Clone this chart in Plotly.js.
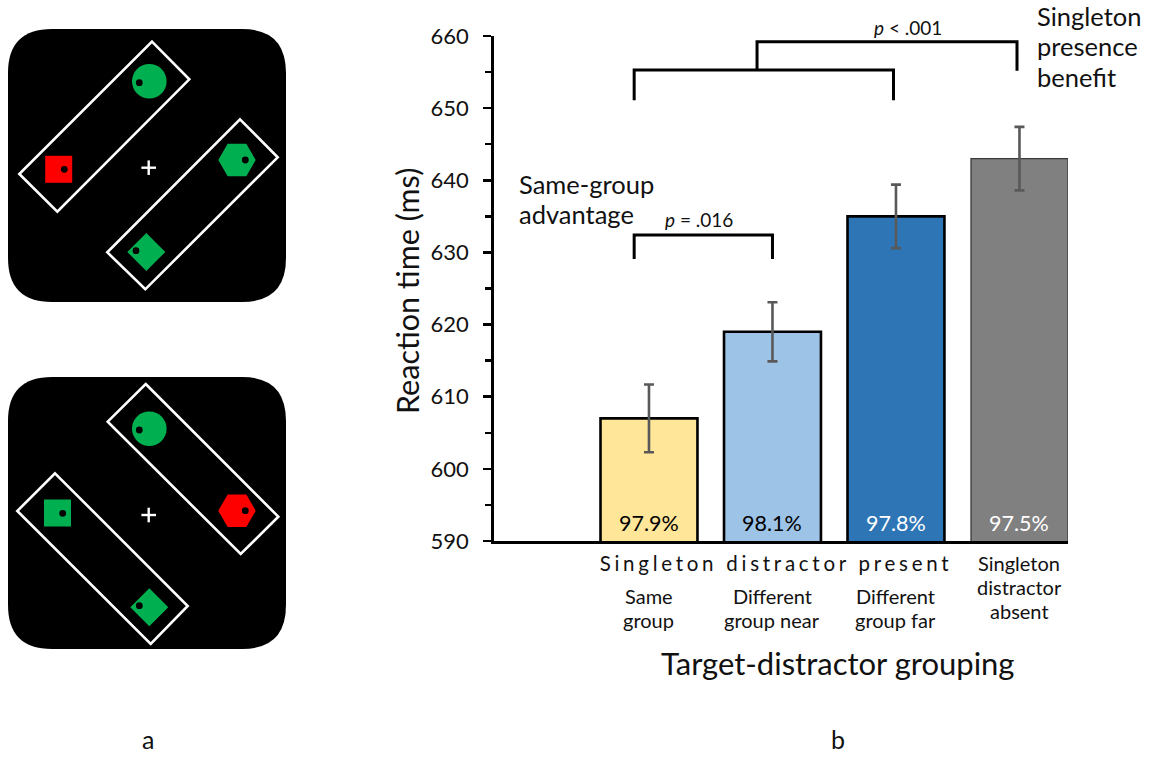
<!DOCTYPE html>
<html>
<head>
<meta charset="utf-8">
<script src="https://cdn.plot.ly/plotly-3.0.1.min.js"></script>
<style>html,body{margin:0;padding:0;background:#fff;}</style>
</head>
<body>
<div id="chart" style="width:1170px;height:758px;"></div>
<script>
// ---------------- data ----------------
const categories = ['Same group', 'Different group near', 'Different group far', 'Singleton distractor absent'];
const tickLines = [['Same', 'group'], ['Different', 'group near'], ['Different', 'group far'], ['Singleton', 'distractor', 'absent']];
const rtValues = [607, 619, 635, 643];
const rtErrors = [4.7, 4.1, 4.4, 4.4];
const accuracyLabels = ['97.9%', '98.1%', '97.8%', '97.5%'];
const groupLabel = 'Singleton distractor present';
const pLabels = ['<i>p</i> = .016', '<i>p</i> &lt; .001'];
const yTicks = [590, 600, 610, 620, 630, 640, 650, 660];
const yMinorTicks = [595, 605, 615, 625, 635, 645, 655];

// ---------------- styles ----------------
const FONT = 'Lato, "Open Sans", "Noto Sans", sans-serif';
const TXT = '#111111';
const barFill = ['#FFE699', '#9DC3E6', '#2E75B6', '#808080'];
const barEdge = ['#000000', '#000000', '#000000', '#3a3a3a'];
const barEdgeW = [2.6, 2.6, 2.6, 1.3];
const pctColor = ['#000000', '#000000', '#ffffff', '#ffffff'];
const W = 1170, H = 758;
const px = x => x / W;
const py = y => 1 - y / H;
const xIdx = categories.map((c, i) => i);

// ---------------- schematic (panel a) ----------------
const GREEN = '#00B050', RED = '#FF0000';
const panels = [
  {
    box: [8, 29, 286, 302],
    frames: [[[152, 41.7], [189.3, 79.3], [57.3, 211.7], [19.3, 174]],
             [[240, 119.3], [277.7, 157.3], [145.3, 289.3], [107.3, 252.3]]],
    items: [
      {kind: 'circle', c: [149.3, 81.3], col: GREEN, dot: [139.3, 82.7]},
      {kind: 'square', c: [58.7, 169.3], col: RED, dot: [64.3, 169.3]},
      {kind: 'hexagon', c: [237, 160], col: GREEN, dot: [245.3, 160]},
      {kind: 'diamond', c: [146.3, 252], col: GREEN, dot: [136, 250.7]}
    ],
    cross: [148.7, 167.7]
  },
  {
    box: [8, 377, 286, 649],
    frames: [[[145.7, 384], [278.3, 516.7], [240.7, 554], [107.7, 421.7]],
             [[55, 473.3], [187.7, 606], [150.7, 644], [17.3, 511]]],
    items: [
      {kind: 'circle', c: [149.3, 428.7], col: GREEN, dot: [139.3, 430]},
      {kind: 'hexagon', c: [237, 510.7], col: RED, dot: [245.3, 510.7]},
      {kind: 'square', c: [57.5, 513], col: GREEN, dot: [62.7, 513.3]},
      {kind: 'diamond', c: [149.3, 607.3], col: GREEN, dot: [139.3, 605.7]}
    ],
    cross: [148.7, 515]
  }
];

const shapes = [];
function pathFrom(pts) {
  return 'M' + pts.map(p => p[0].toFixed(2) + ',' + p[1].toFixed(2)).join('L') + 'Z';
}
function roundRect(x0, y0, x1, y1, r) {
  return `M${x0 + r},${y0} L${x1 - r},${y0} Q${x1},${y0} ${x1},${y0 + r} L${x1},${y1 - r} Q${x1},${y1} ${x1 - r},${y1} L${x0 + r},${y1} Q${x0},${y1} ${x0},${y1 - r} L${x0},${y0 + r} Q${x0},${y0} ${x0 + r},${y0} Z`;
}
panels.forEach(p => {
  const [x0, y0, x1, y1] = p.box;
  shapes.push({type: 'path', xref: 'x2', yref: 'y2', path: roundRect(x0, y0, x1, y1, 44),
               fillcolor: '#000', line: {width: 0}});
  p.frames.forEach(f => shapes.push({type: 'path', xref: 'x2', yref: 'y2', path: pathFrom(f),
               fillcolor: 'rgba(0,0,0,0)', line: {color: '#fff', width: 2.6}}));
  p.items.forEach(it => {
    const [cx, cy] = it.c;
    if (it.kind === 'circle') {
      const r = 17.3;
      shapes.push({type: 'circle', xref: 'x2', yref: 'y2', x0: cx - r, x1: cx + r, y0: cy - r, y1: cy + r,
                   fillcolor: it.col, line: {width: 0}});
    } else if (it.kind === 'square') {
      const h = 13.5;
      shapes.push({type: 'rect', xref: 'x2', yref: 'y2', x0: cx - h, x1: cx + h, y0: cy - h, y1: cy + h,
                   fillcolor: it.col, line: {width: 0}});
    } else if (it.kind === 'hexagon') {
      const r = 18.7, pts = [];
      for (let k = 0; k < 6; k++) {
        const a = k * Math.PI / 3;
        pts.push([cx + r * Math.cos(a), cy + r * Math.sin(a)]);
      }
      shapes.push({type: 'path', xref: 'x2', yref: 'y2', path: pathFrom(pts), fillcolor: it.col, line: {width: 0}});
    } else if (it.kind === 'diamond') {
      const d = 19;
      shapes.push({type: 'path', xref: 'x2', yref: 'y2',
                   path: pathFrom([[cx - d, cy], [cx, cy - d], [cx + d, cy], [cx, cy + d]]),
                   fillcolor: it.col, line: {width: 0}});
    }
    const dr = 3.4;
    shapes.push({type: 'circle', xref: 'x2', yref: 'y2', x0: it.dot[0] - dr, x1: it.dot[0] + dr,
                 y0: it.dot[1] - dr, y1: it.dot[1] + dr, fillcolor: '#000', line: {width: 0}});
  });
  const [cx, cy] = p.cross, a = 7.3;
  shapes.push({type: 'line', xref: 'x2', yref: 'y2', x0: cx - a, x1: cx + a, y0: cy, y1: cy, line: {color: '#fff', width: 2.4}});
  shapes.push({type: 'line', xref: 'x2', yref: 'y2', x0: cx, x1: cx, y0: cy - a, y1: cy + a, line: {color: '#fff', width: 2.4}});
});

// ---------------- significance brackets (data units) ----------------
const brackets = [
  {x0: -0.12, x1: 1.0, top: 632.4, leg0: 629.1, leg1: 629.1},
  {x0: -0.12, x1: 1.98, top: 655.3, leg0: 651.1, leg1: 651.1},
  {x0: 0.875, x1: 2.98, top: 659.2, leg0: 655.3, leg1: 655.2}
];
brackets.forEach(b => {
  shapes.push({type: 'path', xref: 'x', yref: 'y',
               path: `M${b.x0},${b.leg0} L${b.x0},${b.top} L${b.x1},${b.top} L${b.x1},${b.leg1}`,
               line: {color: '#000', width: 3}, fillcolor: 'rgba(0,0,0,0)'});
});

// ---------------- traces ----------------
const traces = [
  {
    type: 'bar', x: xIdx, y: rtValues, width: 0.785,
    marker: {color: barFill, line: {color: barEdge, width: barEdgeW}},
    error_y: {type: 'data', array: rtErrors, visible: true, color: '#595959', thickness: 2.6, width: 5},
    hoverinfo: 'skip', showlegend: false
  },
  {
    type: 'scatter', x: [0], y: [0], xaxis: 'x2', yaxis: 'y2', mode: 'markers',
    marker: {opacity: 0}, hoverinfo: 'skip', showlegend: false
  }
];

// ---------------- annotations ----------------
const ann = [];
function txt(x, y, text, size, extra) {
  ann.push(Object.assign({x: px(x), y: py(y), xref: 'paper', yref: 'paper', text: text, showarrow: false,
    font: {family: FONT, size: size, color: TXT}, xanchor: 'center', yanchor: 'middle'}, extra || {}));
}
accuracyLabels.forEach((t, i) => ann.push({
  x: xIdx[i], y: 592.5, xref: 'x', yref: 'y', text: t, showarrow: false,
  font: {family: FONT, size: 21.5, color: pctColor[i]}, xanchor: 'center', yanchor: 'middle'
}));
const lineYsShort = [595.5, 619.5];
const lineYsLong = [562.5, 586.5, 610.5];
tickLines.forEach((lines, i) => {
  const ys = lines.length === 3 ? lineYsLong : lineYsShort;
  lines.forEach((l, k) => ann.push({
    x: xIdx[i], y: py(ys[k]), xref: 'x', yref: 'paper', text: l, showarrow: false,
    font: {family: FONT, size: 20, color: TXT}, xanchor: 'center', yanchor: 'middle'
  }));
});
txt(776.5, 562.5, groupLabel, 20.5);
txt(407, 291, 'Reaction time (ms)', 30.5, {textangle: -90});
txt(838, 663, 'Target-distractor grouping', 31);
txt(517, 183.5, 'Same-group', 25.5, {xanchor: 'left'});
txt(517, 214.5, 'advantage', 25.5, {xanchor: 'left'});
txt(1035, 16, 'Singleton', 25.5, {xanchor: 'left'});
txt(1035, 46.5, 'presence', 25.5, {xanchor: 'left'});
txt(1035, 77, 'benefit', 25.5, {xanchor: 'left'});
txt(699, 219, pLabels[0], 19);
txt(908, 27, pLabels[1], 19);
txt(148, 756, 'a', 25, {yanchor: 'bottom'});
txt(838, 756, 'b', 25, {yanchor: 'bottom'});

// ---------------- layout ----------------
const layout = {
  width: W, height: H,
  margin: {l: 0, r: 0, t: 0, b: 0, pad: 0},
  paper_bgcolor: '#ffffff', plot_bgcolor: 'rgba(0,0,0,0)',
  font: {family: FONT, color: TXT},
  showlegend: false,
  xaxis: {
    domain: [px(494), px(1068)], range: [-1.255, 3.393],
    showticklabels: false, ticks: '', showgrid: false, zeroline: false,
    showline: true, linecolor: '#000', linewidth: 2.8, fixedrange: true
  },
  yaxis: {
    domain: [py(541), py(36)], range: [590, 660],
    tickvals: yTicks,
    ticks: 'outside', ticklen: 8, tickwidth: 2.5, tickcolor: '#000',
    minor: {tickvals: yMinorTicks, ticks: 'outside', ticklen: 6, tickwidth: 2.5, tickcolor: '#000'},
    ticklabelstandoff: 10,
    tickfont: {family: FONT, size: 22, color: TXT},
    showgrid: false, zeroline: false, showline: true, linecolor: '#000', linewidth: 2.8, fixedrange: true
  },
  xaxis2: {domain: [0, px(300)], range: [0, 300], visible: false, fixedrange: true, anchor: 'y2'},
  yaxis2: {domain: [0, 1], range: [758, 0], visible: false, fixedrange: true, anchor: 'x2'},
  shapes: shapes,
  annotations: ann
};

Plotly.newPlot('chart', traces, layout, {displayModeBar: false, staticPlot: true}).then(() => {
  // letter-spaced group label, stretched to its width in the figure (about 349 px)
  document.querySelectorAll('.annotation-text').forEach(el => {
    if (el.textContent === groupLabel) {
      const w = el.getComputedTextLength();
      const n = groupLabel.length;
      const sp = Math.max(0, (349 - w) / (n - 1));
      el.style.letterSpacing = sp.toFixed(2) + 'px';
    }
  });
});
</script>
</body>
</html>
